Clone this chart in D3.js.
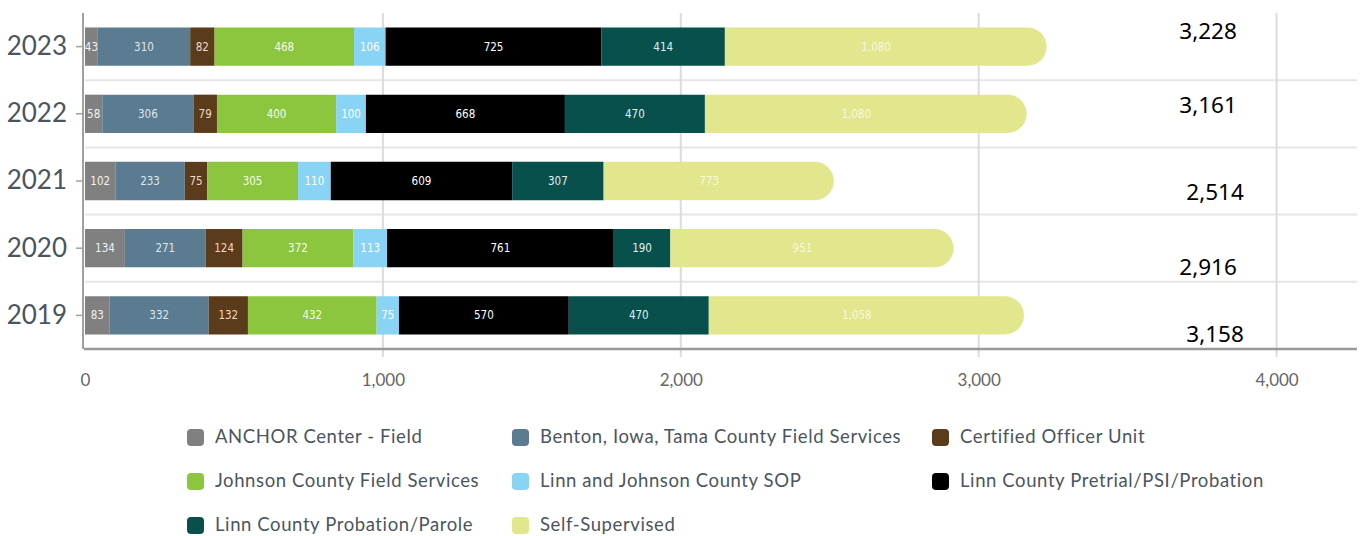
<!DOCTYPE html>
<html>
<head>
<meta charset="utf-8">
<script src="https://cdn.jsdelivr.net/npm/d3@7"></script>
<style>
  body { margin: 0; background: #fff; }
  svg { display: block; }
</style>
</head>
<body>
<svg id="viz" width="1360" height="536"></svg>
<script>
// DATA
var years = ["2023", "2022", "2021", "2020", "2019"];
var units = ["ANCHOR Center - Field", "Benton, Iowa, Tama County Field Services", "Certified Officer Unit",
    "Johnson County Field Services", "Linn and Johnson County SOP", "Linn County Pretrial/PSI/Probation",
    "Linn County Probation/Parole", "Self-Supervised"];
var anchor    = [43, 58, 102, 134, 83];
var benton    = [310, 306, 233, 271, 332];
var certified = [82, 79, 75, 124, 132];
var johnson   = [468, 400, 305, 372, 432];
var sop       = [106, 100, 110, 113, 75];
var pretrial  = [725, 668, 609, 761, 570];
var parole    = [414, 470, 307, 190, 470];
var selfSup   = [1080, 1080, 773, 951, 1058];
var totals    = [3228, 3161, 2514, 2916, 3158];
var xTicks    = [0, 1000, 2000, 3000, 4000];

var colors = ["#808080", "#5b7b90", "#5a3b1c", "#8cc63f", "#89d3f4", "#000000", "#07504c", "#e2e78e"];
var labelColors = ["#f2f2f2", "#dde6ee", "#f1d9c0", "#f4fbe8", "#ffffff", "#ffffff", "#e0efee", "#f6f8dc"];
// nudges for the typed-in totals, they are not centered on the bars
var totalDy = [-15, -9, 11, 19, 19];
var totalDx = [0, 0, 7, 0, 7];

var series = [anchor, benton, certified, johnson, sop, pretrial, parole, selfSup];

var svg = d3.select("#viz");
var fmt = d3.format(",");

var xScale = d3.scaleLinear().domain([0, 4270]).range([85, 1357]);
var yScale = d3.scaleBand().domain(years).range([13, 349]).paddingInner(0.43).paddingOuter(0.215);

// GRID
svg.selectAll(".hgrid")
    .data(years.slice(1))
    .enter().append("line")
    .attr("class", "hgrid")
    .attr("x1", xScale(0)).attr("x2", 1357)
    .attr("y1", function (d) { return yScale(d) - yScale.step() * 0.215; })
    .attr("y2", function (d) { return yScale(d) - yScale.step() * 0.215; })
    .attr("stroke", "#e6e6e6").attr("stroke-width", 2);

svg.selectAll(".vgrid")
    .data(xTicks.slice(1))
    .enter().append("line")
    .attr("class", "vgrid")
    .attr("x1", function (d) { return xScale(d); })
    .attr("x2", function (d) { return xScale(d); })
    .attr("y1", 13).attr("y2", 357)
    .attr("stroke", "#dcdcdc").attr("stroke-width", 2);

// BARS
var stackData = years.map(function (y, i) {
    var row = { year: y };
    units.forEach(function (u, k) { row[u] = series[k][i]; });
    return row;
});
var stacked = d3.stack().keys(units)(stackData);

var layers = svg.selectAll(".layer")
    .data(stacked)
    .enter().append("g")
    .attr("class", "layer")
    .attr("fill", function (d, k) { return colors[k]; });

layers.selectAll("path")
    .data(function (d) { return d; })
    .enter().append("path")
    .attr("d", function (d) {
        var x0 = xScale(d[0]), x1 = xScale(d[1]);
        var y0 = yScale(d.data.year), h = yScale.bandwidth();
        var k = d3.select(this.parentNode).datum().index;
        if (k === units.length - 1) { // last segment gets the round end
            var r = h / 2;
            return "M" + x0 + "," + y0 + "H" + (x1 - r) +
                "A" + r + "," + r + " 0 0 1 " + (x1 - r) + "," + (y0 + h) +
                "H" + x0 + "Z";
        }
        return "M" + x0 + "," + y0 + "H" + x1 + "V" + (y0 + h) + "H" + x0 + "Z";
    });

layers.selectAll("text")
    .data(function (d) { return d; })
    .enter().append("text")
    .attr("x", function (d) {
        var k = d3.select(this.parentNode).datum().index;
        if (k === units.length - 1) return (xScale(d[0]) + xScale(d[1]) - yScale.bandwidth() / 2) / 2;
        return (xScale(d[0]) + xScale(d[1])) / 2;
    })
    .attr("y", function (d) { return yScale(d.data.year) + yScale.bandwidth() / 2; })
    .attr("dy", "0.35em")
    .attr("text-anchor", "middle")
    .attr("font-family", "'DejaVu Sans Condensed', sans-serif")
    .attr("font-size", 11.5)
    .attr("fill", function () { return labelColors[d3.select(this.parentNode).datum().index]; })
    .text(function (d) { return fmt(d[1] - d[0]); });

// AXES
svg.append("line")
    .attr("x1", 83).attr("x2", 83).attr("y1", 13).attr("y2", 349)
    .attr("stroke", "#a0a0a0").attr("stroke-width", 2);
svg.append("line")
    .attr("x1", 84).attr("x2", 1357).attr("y1", 349).attr("y2", 349)
    .attr("stroke", "#999").attr("stroke-width", 2.5);

var yAxis = svg.append("g")
    .attr("transform", "translate(83,0)")
    .call(d3.axisLeft(yScale).tickSize(7).tickPadding(9));
yAxis.select(".domain").remove();
yAxis.selectAll("line").attr("stroke", "#a0a0a0").attr("stroke-width", 1.5);
yAxis.selectAll("text")
    .attr("font-family", "Lato, sans-serif").attr("font-size", 26).attr("fill", "#4b555e");

var xAxis = svg.append("g")
    .attr("transform", "translate(0,349)")
    .call(d3.axisBottom(xScale).tickValues(xTicks).tickFormat(fmt).tickSize(0).tickPadding(25));
xAxis.select(".domain").remove();
xAxis.selectAll("text")
    .attr("font-family", "Lato, sans-serif").attr("font-size", 17).attr("fill", "#666");

// TOTALS
svg.selectAll(".total")
    .data(totals)
    .enter().append("text")
    .attr("class", "total")
    .attr("x", function (d, i) { return xScale(3770) + totalDx[i]; })
    .attr("y", function (d, i) { return yScale(years[i]) + yScale.bandwidth() / 2 + totalDy[i]; })
    .attr("dy", "0.35em")
    .attr("text-anchor", "middle")
    .attr("font-family", "'Noto Sans', sans-serif")
    .attr("font-size", 22.5)
    .attr("fill", "#000")
    .text(function (d) { return fmt(d); });

// LEGEND
var colX = [187, 512, 932];
var legend = svg.selectAll(".legend")
    .data(units)
    .enter().append("g")
    .attr("class", "legend")
    .attr("transform", function (d, i) {
        return "translate(" + colX[i % 3] + "," + (437 + Math.floor(i / 3) * 44) + ")";
    });
legend.append("rect")
    .attr("x", 0).attr("y", -8).attr("width", 17).attr("height", 17)
    .attr("rx", 4)
    .attr("fill", function (d, i) { return colors[i]; });
legend.append("text")
    .attr("x", 28).attr("y", 0).attr("dy", "0.35em")
    .attr("font-family", "Lato, sans-serif").attr("font-size", 18.5).attr("fill", "#4b555e")
    .attr("letter-spacing", 0.6)
    .text(function (d) { return d; });
</script>
</body>
</html>
